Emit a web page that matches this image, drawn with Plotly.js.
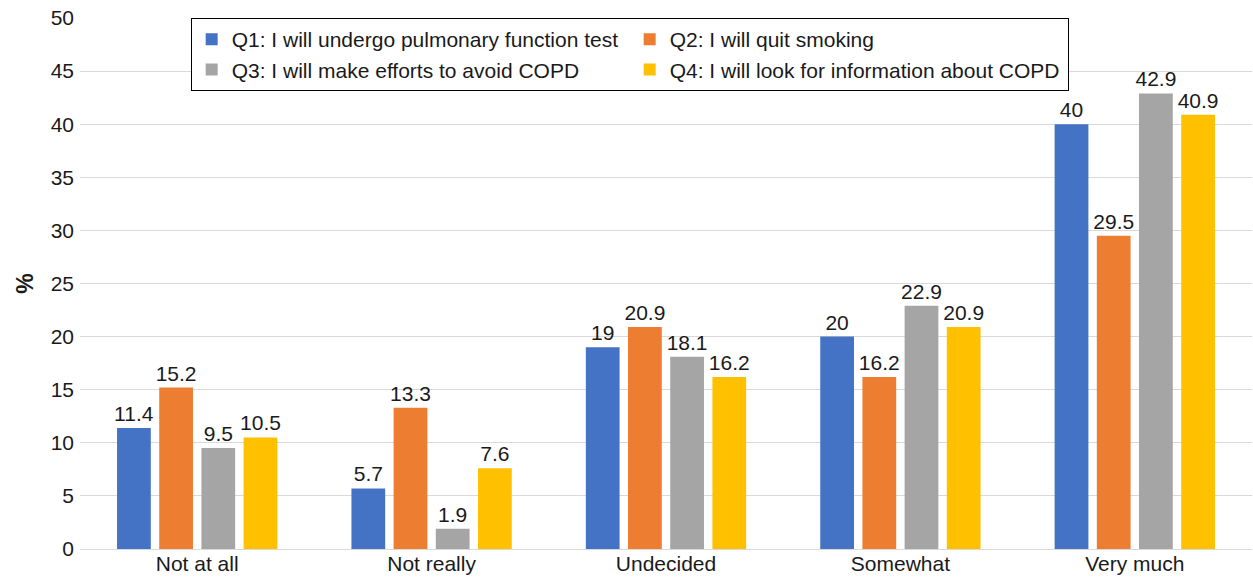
<!DOCTYPE html>
<html><head><meta charset="utf-8">
<script src="https://cdn.plot.ly/plotly-3.0.1.min.js"></script>
<style>html,body{margin:0;padding:0;background:#fff}#chart{width:1253px;height:580px}</style>
</head><body><div id="chart"></div>
<script>
const categories = ["Not at all", "Not really", "Undecided", "Somewhat", "Very much"];
const seriesNames = [
  "Q1: I will undergo pulmonary function test",
  "Q2: I will quit smoking",
  "Q3: I will make efforts to avoid COPD",
  "Q4: I will look for information about COPD"
];
const q1 = [11.4, 5.7, 19, 20, 40];
const q2 = [15.2, 13.3, 20.9, 16.2, 29.5];
const q3 = [9.5, 1.9, 18.1, 22.9, 42.9];
const q4 = [10.5, 7.6, 16.2, 20.9, 40.9];
const colors = ["#4472c4", "#ed7d31", "#a5a5a5", "#ffc000"];
const yTicks = [0, 5, 10, 15, 20, 25, 30, 35, 40, 45, 50];

const FONT = "Liberation Sans, Arial, sans-serif";
const traces = [q1, q2, q3, q4].map((vals, i) => ({
  type: "bar",
  name: seriesNames[i],
  x: categories,
  y: vals,
  marker: {color: colors[i]},
  text: vals.map(String),
  textposition: "outside",
  constraintext: "none",
  textfont: {family: FONT, size: 21, color: "#1a1a1a"},
  cliponaxis: false,
  hoverinfo: "skip"
}));

const layout = {
  width: 1253, height: 580,
  margin: {l: 80, r: 1, t: 18, b: 31},
  paper_bgcolor: "#fff", plot_bgcolor: "#fff",
  font: {family: FONT, size: 21, color: "#1a1a1a"},
  barmode: "group",
  bargap: 0.28,
  bargroupgap: 0.2,
  showlegend: true,
  legend: {
    orientation: "h",
    x: 0.469, xanchor: "center",
    y: 1, yanchor: "top",
    entrywidth: 393, entrywidthmode: "pixels",
    bordercolor: "#000", borderwidth: 1,
    bgcolor: "#fff",
    font: {family: FONT, size: 21, color: "#1a1a1a"},
    itemwidth: 30,
    traceorder: "normal"
  },
  xaxis: {
    type: "category",
    showgrid: false,
    showline: false,
    ticks: "",
    tickfont: {family: FONT, size: 21, color: "#1a1a1a"},
    fixedrange: true
  },
  yaxis: {
    range: [0, 50],
    tickvals: yTicks,
    ticktext: yTicks.map(String),
    showgrid: true,
    gridcolor: "#d9d9d9",
    zeroline: true,
    zerolinecolor: "#d9d9d9",
    zerolinewidth: 1,
    ticks: "",
    ticklen: 0,
    ticklabelstandoff: 5,
    tickfont: {family: FONT, size: 21, color: "#1a1a1a"},
    title: {text: "<b>%</b>", font: {family: FONT, size: 23, color: "#1a1a1a"}, standoff: 10},
    fixedrange: true
  }
};
Plotly.newPlot("chart", traces, layout, {displayModeBar: false, staticPlot: true});
</script></body></html>
